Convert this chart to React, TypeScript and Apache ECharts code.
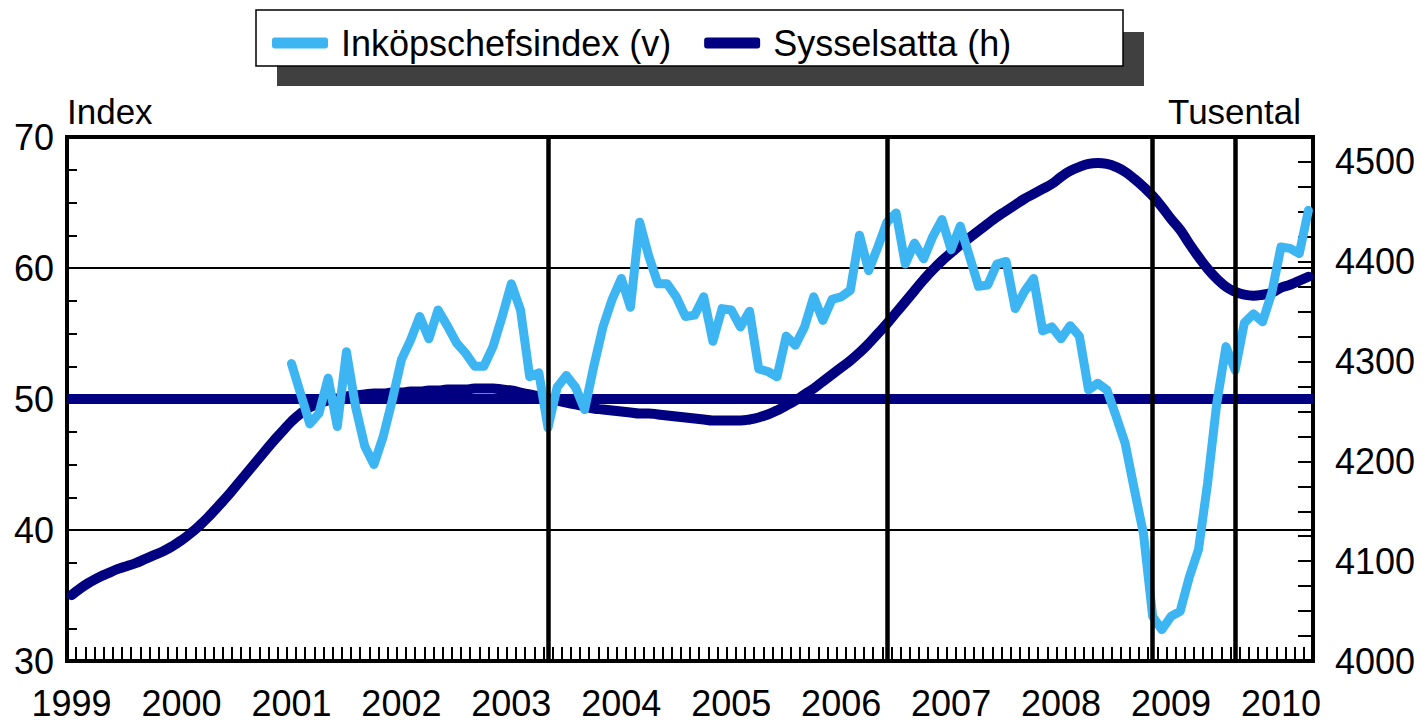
import React, { useEffect, useRef } from "react";
import * as echarts from "echarts";

// ---- Data ----
const YEARS = ["1999", "2000", "2001", "2002", "2003", "2004", "2005", "2006", "2007", "2008", "2009", "2010"];
const MONTHS_LAST_YEAR = 4; // data through April 2010

// Sysselsatta (h), tusental, monthly from Jan 1999
const SYSSELSATTA = [
  4066, 4073, 4079, 4084, 4088, 4092, 4095, 4098, 4102, 4106, 4110, 4115,
  4121, 4128, 4136, 4145, 4155, 4165, 4176, 4187, 4198, 4209, 4220, 4230,
  4240, 4248, 4254, 4258, 4261, 4263, 4265, 4266, 4267, 4268, 4268, 4269,
  4269, 4270, 4270, 4271, 4271, 4272, 4272, 4272, 4273, 4273, 4273, 4272,
  4271, 4269, 4267, 4265, 4263, 4261, 4259, 4257, 4255, 4253, 4252, 4251,
  4250, 4249, 4248, 4248, 4247, 4246, 4245, 4244, 4243, 4242, 4241, 4241,
  4241, 4241, 4242, 4244, 4247, 4251, 4256, 4261, 4267, 4273, 4280, 4287,
  4294, 4301, 4309, 4318, 4328, 4338, 4349, 4360, 4371, 4382, 4392, 4401,
  4409, 4417, 4424, 4431, 4438, 4445, 4451, 4457, 4463, 4468, 4473, 4478,
  4485, 4491, 4495, 4498, 4499, 4498, 4495, 4490, 4483, 4475, 4466, 4455,
  4443, 4432, 4418, 4405, 4393, 4383, 4375, 4370, 4367, 4366, 4367, 4369,
  4374, 4377, 4381, 4385,
];

// Inköpschefsindex (v), monthly from Jan 2001
const INKOP_START_INDEX = 24;
const INKOPSCHEFSINDEX = [
  52.7, 50.4, 48.1, 48.9, 51.6, 47.9, 53.6, 49.4, 46.4, 45.0, 47.1, 49.9,
  53.0, 54.5, 56.3, 54.6, 56.8, 55.6, 54.3, 53.5, 52.5, 52.5, 54.0, 56.3,
  58.8, 56.8, 51.7, 52.0, 47.8, 50.9, 51.8, 50.9, 49.2, 52.5, 55.5, 57.6,
  59.2, 57.0, 63.5, 60.9, 58.8, 58.8, 57.8, 56.3, 56.4, 57.8, 54.4, 56.9,
  56.8, 55.5, 56.7, 52.3, 52.1, 51.7, 54.8, 54.1, 55.5, 57.8, 56.0, 57.6,
  57.8, 58.3, 62.5, 59.8, 61.6, 63.5, 64.2, 60.3, 61.9, 60.7, 62.4, 63.7,
  61.4, 63.2, 60.9, 58.6, 58.7, 60.3, 60.5, 56.9, 58.2, 59.2, 55.2, 55.5,
  54.6, 55.6, 54.8, 50.7, 51.2, 50.7, 48.7, 46.6, 43.1, 39.7, 33.4, 32.4,
  33.4, 33.8, 36.4, 38.5, 43.6, 49.7, 54.0, 52.2, 55.8, 56.5, 55.9, 58.1,
  61.6, 61.5, 61.1, 64.4,
];

const EVENT_MONTHS = ["2003-05", "2006-06", "2008-11", "2009-08"];
const LEFT_REF_LINES = [40, 60];
const NEUTRAL_LEVEL = 50;

const SERIES_NAMES = ["Inköpschefsindex (v)", "Sysselsatta (h)"];
const LEFT_AXIS_NAME = "Index";
const RIGHT_AXIS_NAME = "Tusental";

// ---- Styles ----
const BLUE = "#3DB5F2";
const NAVY = "#000080";
const FONT = "Arial, 'Liberation Sans', sans-serif";

function buildCategories(): string[] {
  const out: string[] = [];
  YEARS.forEach((y, yi) => {
    const n = yi === YEARS.length - 1 ? MONTHS_LAST_YEAR : 12;
    for (let m = 1; m <= n; m++) out.push(`${y}-${String(m).padStart(2, "0")}`);
  });
  return out;
}

export default function App() {
  const ref = useRef<HTMLDivElement>(null);

  useEffect(() => {
    if (!ref.current) return;
    const chart = echarts.init(ref.current, undefined, { renderer: "svg" });
    const categories = buildCategories();
    const inkop: (number | null)[] = [
      ...new Array(INKOP_START_INDEX).fill(null),
      ...INKOPSCHEFSINDEX,
    ];

    const axisText = { color: "#000", fontSize: 36, fontFamily: FONT };

    const option: any = {
      animation: false,
      backgroundColor: "#fff",
      grid: {
        left: 67,
        right: 113,
        top: 137,
        bottom: 65,
        show: true,
        borderColor: "#000",
        borderWidth: 4,
        backgroundColor: "transparent",
      },
      graphic: [
        {
          type: "rect",
          z: 0,
          shape: { x: 277, y: 32, width: 867, height: 54 },
          style: { fill: "#404040" },
          silent: true,
        },
        {
          type: "rect",
          z: 1,
          shape: { x: 256, y: 10, width: 867, height: 56 },
          style: { fill: "#fff", stroke: "#000", lineWidth: 1.5 },
          silent: true,
        },
      ],
      legend: {
        left: 267,
        top: 20,
        itemWidth: 56,
        itemHeight: 11,
        itemGap: 33,
        selectedMode: false,
        textStyle: { ...axisText, padding: [0, 0, 0, 8] },
        data: [
          { name: SERIES_NAMES[0], icon: "roundRect", itemStyle: { color: BLUE } },
          { name: SERIES_NAMES[1], icon: "roundRect", itemStyle: { color: NAVY } },
        ],
      },
      xAxis: {
        type: "category",
        data: categories,
        boundaryGap: true,
        axisLine: { lineStyle: { color: "#000", width: 4 } },
        axisTick: {
          show: true,
          interval: 0,
          inside: true,
          length: 14,
          lineStyle: { color: "#000", width: 2 },
        },
        axisLabel: {
          ...axisText,
          interval: (i: number) => i % 12 === 0,
          formatter: (v: string) => v.slice(0, 4),
          margin: 24,
        },
        splitLine: { show: false },
      },
      yAxis: [
        {
          type: "value",
          min: 30,
          max: 70,
          interval: 2.5,
          name: LEFT_AXIS_NAME,
          nameLocation: "end",
          nameGap: 8,
          nameTextStyle: { ...axisText, fontSize: 35, align: "left", verticalAlign: "bottom" },
          axisLine: { show: true, lineStyle: { color: "#000", width: 4 } },
          axisTick: { show: true, inside: true, length: 10, lineStyle: { color: "#000", width: 2 } },
          axisLabel: {
            ...axisText,
            margin: 13,
            formatter: (v: number) => (v % 10 === 0 ? String(v) : ""),
          },
          splitLine: { show: false },
        },
        {
          type: "value",
          min: 4000,
          max: 4525,
          interval: 25,
          position: "right",
          name: RIGHT_AXIS_NAME,
          nameLocation: "end",
          nameGap: 8,
          nameTextStyle: {
            ...axisText,
            fontSize: 35,
            align: "right",
            verticalAlign: "bottom",
            padding: [0, 12, 0, 0],
          },
          axisLine: { show: true, lineStyle: { color: "#000", width: 4 } },
          axisTick: { show: true, inside: true, length: 15, lineStyle: { color: "#000", width: 2 } },
          axisLabel: {
            ...axisText,
            margin: 22,
            formatter: (v: number) => (v % 100 === 0 ? String(v) : ""),
          },
          splitLine: { show: false },
        },
      ],
      series: [
        {
          name: SERIES_NAMES[1],
          type: "line",
          yAxisIndex: 1,
          data: SYSSELSATTA,
          smooth: true,
          symbol: "none",
          color: NAVY,
          z: 2,
          lineStyle: { color: NAVY, width: 10, cap: "round", join: "round" },
          markLine: {
            silent: true,
            symbol: "none",
            z: 10,
            label: { show: false },
            lineStyle: { color: "#000", width: 4.5, type: "solid" },
            emphasis: { disabled: true },
            data: EVENT_MONTHS.map((m) => ({ xAxis: m })),
          },
        },
        {
          name: SERIES_NAMES[0],
          type: "line",
          yAxisIndex: 0,
          data: inkop,
          symbol: "none",
          color: BLUE,
          z: 3,
          lineStyle: { color: BLUE, width: 9, cap: "round", join: "round" },
          markLine: {
            silent: true,
            symbol: "none",
            z: 1,
            label: { show: false },
            emphasis: { disabled: true },
            data: [
              ...LEFT_REF_LINES.map((v) => ({
                yAxis: v,
                lineStyle: { color: "#000", width: 2, type: "solid" },
              })),
              { yAxis: NEUTRAL_LEVEL, lineStyle: { color: NAVY, width: 10, type: "solid" } },
            ],
          },
        },
      ],
    };

    chart.setOption(option);
    return () => chart.dispose();
  }, []);

  return (
    <div
      ref={ref}
      style={{ position: "fixed", left: 0, top: 0, width: 1426, height: 726, background: "#fff" }}
    />
  );
}
